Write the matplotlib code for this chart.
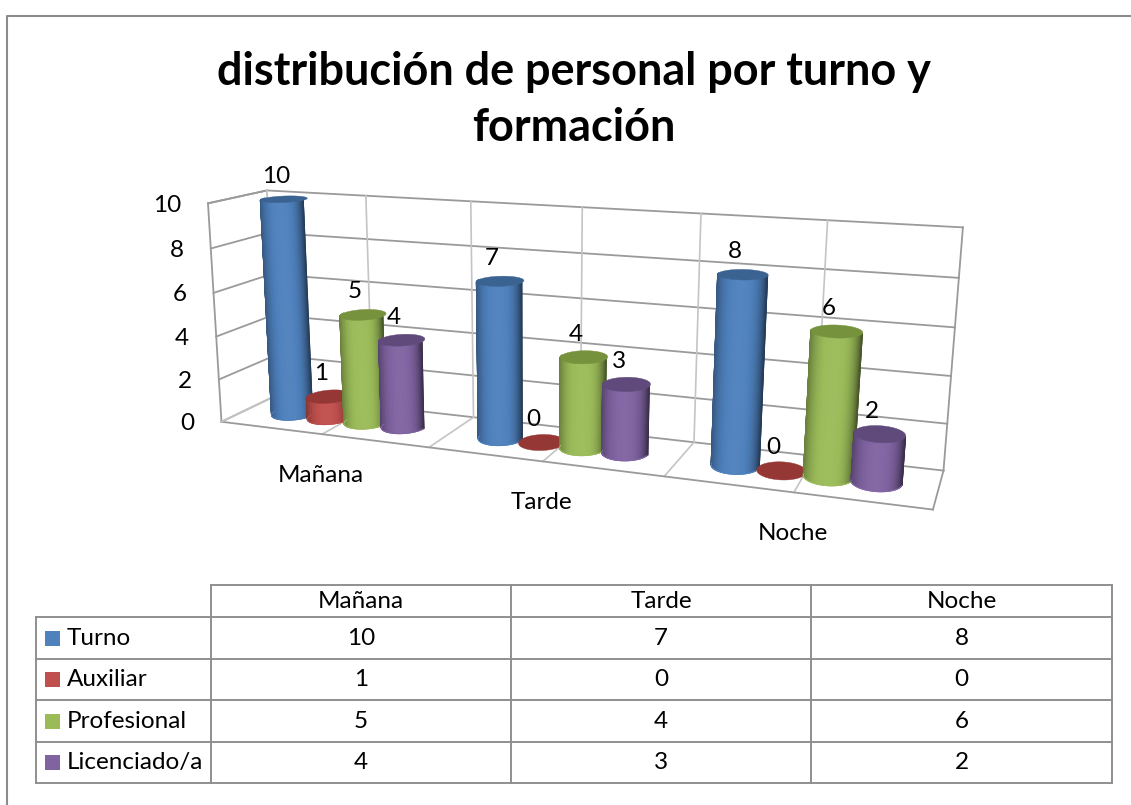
import numpy as np
import matplotlib
matplotlib.use('Agg')
import matplotlib.pyplot as plt
from matplotlib.patches import Polygon, Rectangle

plt.rcParams['font.family'] = ['Lato', 'DejaVu Sans']

# datos
turnos = ['Mañana', 'Tarde', 'Noche']
series = ['Turno', 'Auxiliar', 'Profesional', 'Licenciado/a']
turno = [10, 7, 8]
auxiliar = [1, 0, 0]
profesional = [5, 4, 6]
licenciado = [4, 3, 2]
yticks = [0, 2, 4, 6, 8, 10]
titulo = 'distribución de personal por turno y\nformación'

valores = [turno, auxiliar, profesional, licenciado]
colores = ['#4F81BD', '#C0504D', '#9BBB59', '#8064A2']
tapas = ['#3A6391', '#953735', '#76923C', '#604A7B']
ymax = 10.0
fs = 17.5

# calibracion de la caja 3D: (u, w, h) -> pixel
caja = [(0, 0, 0, 223, 421), (1, 0, 0, 933, 511), (1, 1, 0, 944, 469),
        (0, 1, 0, 275, 396), (0, 0, 1, 206, 203), (0, 1, 1, 268, 190),
        (1, 1, 1, 963, 227), (1/6, 0, 0, 323, 433), (1/2, 0, 0, 543, 462),
        (5/6, 0, 0, 793, 493), (1/6, 1, 1, 367, 197), (5/6, 1, 1, 827, 220)]


def camara(puntos):
    filas = []
    for u, w, h, x, y in puntos:
        filas.append([u, w, h, 1, 0, 0, 0, 0, -x*u, -x*w, -x*h, -x])
        filas.append([0, 0, 0, 0, u, w, h, 1, -y*u, -y*w, -y*h, -y])
    return np.linalg.svd(np.array(filas))[2][-1].reshape(3, 4)


P = camara(caja)


def proy(u, w, v):
    u, w, v = np.broadcast_arrays(u, w, np.asarray(v, dtype=float) / ymax)
    q = P @ np.array([u, w, v, np.ones_like(u, dtype=float)], dtype=float)
    return q[0] / q[2], q[1] / q[2]


def tono(color, f):
    c = np.array(matplotlib.colors.to_rgb(color))
    if f > 1:
        return tuple(c + (1 - c) * (f - 1))
    return tuple(c * f)


def cilindro(ax, u0, r_u, r_w, v, color, tapa, z):
    th = np.linspace(0, 2*np.pi, 241)
    us = u0 + r_u * np.cos(th)
    ws = 0.5 + r_w * np.sin(th)
    xt, yt = proy(us, ws, v)
    if v > 0:
        # mitad frontal del cilindro, de izquierda a derecha
        th_f = np.linspace(np.pi, 2*np.pi, 41)
        uf = u0 + r_u * np.cos(th_f)
        wf = 0.5 + r_w * np.sin(th_f)
        xb, yb = proy(uf, wf, 0)
        xa, ya = proy(uf, wf, v)
        cx, hw = (xb.max() + xb.min()) / 2, (xb.max() - xb.min()) / 2
        cols = []
        for x in xb:
            t = np.clip((x - cx) / hw, -1, 1)
            f = 1.03 - 0.30 * abs(t + 0.05) ** 2.6 - (0.22 * t ** 4 if t > 0 else 0.08 * t ** 4)
            cols.append(tono(color, f))
        cols = np.array(cols)
        X = np.vstack([xb, xa])
        Y = np.vstack([yb, ya])
        ax.pcolormesh(X, Y, np.stack([cols, cols]), shading='gouraud', zorder=z)
        # borde suave para que el contorno no quede dentado
        ax.plot(xb, yb, color=tuple(cols[len(cols)//2]), lw=0.8, zorder=z)
        ax.plot([xb[0], xa[0]], [yb[0], ya[0]], color=tuple(cols[0]), lw=0.8, zorder=z)
        ax.plot([xb[-1], xa[-1]], [yb[-1], ya[-1]], color=tuple(cols[-1]), lw=0.8, zorder=z)
    ax.add_patch(Polygon(np.column_stack([xt, yt]), closed=True, fc=tapa, ec=tapa, lw=0.3, zorder=z + 0.1))


fig = plt.figure(figsize=(11.31, 8.05), dpi=100)
ax = fig.add_axes([0, 0, 1, 1])
ax.axis('off')

# marco exterior
ax.plot([7, 7, 1131], [805, 16, 16], color='#8c8c8c', lw=1.5, zorder=1)

ax.text(574, 100, titulo, ha='center', va='center', fontsize=32.4, fontweight='bold',
        linespacing=1.44, color='black')

# paredes y piso
gris = '#9a9a9a'
claro = '#c4c4c4'
for v in yticks:
    xs, ys = proy(np.array([0, 0, 1]), np.array([0, 1, 1]), v)
    ax.plot(xs, ys, color=gris, lw=1.3, zorder=2)
    x0, y0 = proy(0, 0, v)
    ax.text(x0 - 27, y0 + 2, str(v), ha='right', va='center', fontsize=fs, color='black')
for k in range(1, 6):
    xs, ys = proy(np.array([k/6, k/6]), np.array([1, 1]), np.array([0, ymax]))
    ax.plot(xs, ys, color=claro, lw=1.2, zorder=2)
    xs, ys = proy(np.array([k/6, k/6]), np.array([0, 1]), 0)
    ax.plot(xs, ys, color=claro, lw=1.2, zorder=2)
for (a, b) in [((0, 0, 0), (0, 0, ymax)), ((0, 0, ymax), (0, 1, ymax)), ((0, 1, 0), (0, 1, ymax)),
               ((1, 1, 0), (1, 1, ymax)), ((0, 0, 0), (1, 0, 0)), ((1, 0, 0), (1, 1, 0))]:
    xs, ys = proy(np.array([a[0], b[0]]), np.array([a[1], b[1]]), np.array([a[2], b[2]]))
    color = claro if a == (0, 1, 0) else gris
    ax.plot(xs, ys, color=color, lw=1.3, zorder=2)
xs, ys = proy(np.array([0, 0]), np.array([0, 1]), 0)
ax.plot(xs, ys, color=claro, lw=1.2, zorder=2)

# cilindros
paso = 1 / 3 / 5.5
r_u = paso * 0.52
r_w = 0.24
z = 5
for k, nombre in enumerate(turnos):
    x, y = proy((k + 0.5) / 3, 0, 0)
    ax.text(x - 1, y + 41, nombre, ha='center', va='center', fontsize=fs, zorder=30)
    for j in range(len(series)):
        v = valores[j][k]
        u0 = (k + 0.5) / 3 + (j - 1.5) * paso
        cilindro(ax, u0, r_u, r_w, v, colores[j], tapas[j], z)
        z += 1
        xt, yt = proy(u0, 0.5, v)
        ax.text(xt - 8, yt - 23, str(v), ha='center', va='center', fontsize=fs, zorder=30)

# tabla de datos
col_x = [211, 511, 811, 1112]
fila_y = [585, 617, 659, 700, 742, 783]
borde = '#8f8f8f'
ax.plot([col_x[0], col_x[-1]], [fila_y[0], fila_y[0]], color=borde, lw=1.4, zorder=3)
for y in fila_y[1:]:
    ax.plot([36, col_x[-1]], [y, y], color=borde, lw=1.4, zorder=3)
for x in col_x:
    ax.plot([x, x], [fila_y[0], fila_y[-1]], color=borde, lw=1.4, zorder=3)
ax.plot([36, 36], [fila_y[1], fila_y[-1]], color=borde, lw=1.4, zorder=3)
for k, nombre in enumerate(turnos):
    ax.text((col_x[k] + col_x[k+1]) / 2, (fila_y[0] + fila_y[1]) / 2, nombre, ha='center', va='center', fontsize=fs)
for j, nombre in enumerate(series):
    yc = (fila_y[j+1] + fila_y[j+2]) / 2
    ax.add_patch(Rectangle((45, yc - 7.5), 15, 15, fc=colores[j], ec='none', zorder=4))
    ax.text(67, yc, nombre, ha='left', va='center', fontsize=fs)
    for k in range(len(turnos)):
        ax.text((col_x[k] + col_x[k+1]) / 2, yc, str(valores[j][k]), ha='center', va='center', fontsize=fs)

ax.set_xlim(0, 1131)
ax.set_ylim(805, 0)
fig.savefig('out.png', dpi=100, facecolor='white')
